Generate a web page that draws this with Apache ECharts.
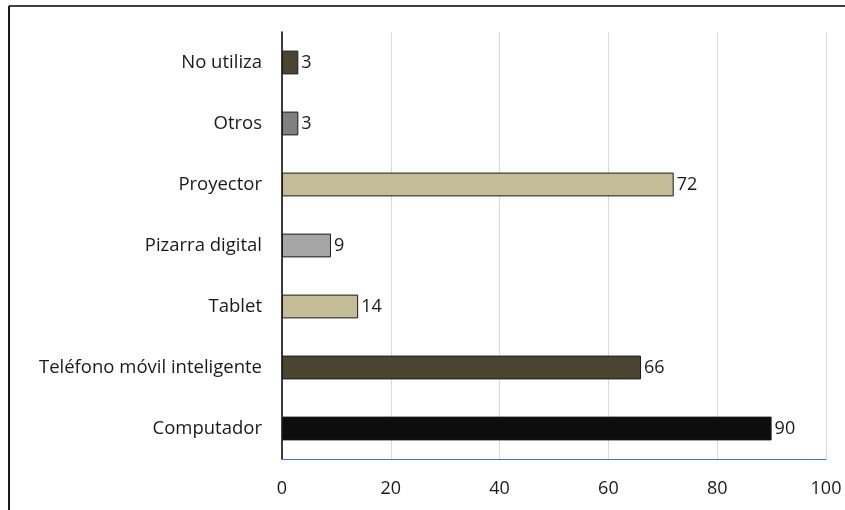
<!DOCTYPE html>
<html><head><meta charset="utf-8">
<script src="https://cdn.jsdelivr.net/npm/echarts@6/dist/echarts.min.js"></script>
<style>html,body{margin:0;padding:0;background:#fff}#c{width:845px;height:510px}</style>
</head><body><div id="c"></div>
<script>
const categories = ['Computador','Teléfono móvil inteligente','Tablet','Pizarra digital','Proyector','Otros','No utiliza'];
const values = [90, 66, 14, 9, 72, 3, 3];
const barColors = ['#0d0d0d','#4a4530','#c4bd97','#a6a6a6','#c4bd97','#808080','#4a4530'];
const xTicks = [0,20,40,60,80,100];

const chart = echarts.init(document.getElementById('c'));
const font = 'Open Sans';
chart.setOption({
  animation:false,
  backgroundColor:'#fff',
  grid:{left:282,right:19,top:32,bottom:51,containLabel:false},
  xAxis:{type:'value',min:xTicks[0],max:xTicks[xTicks.length-1],interval:20,
    axisLine:{show:true,lineStyle:{color:'#4472c4',width:1}},
    axisTick:{show:false},
    splitLine:{show:true,lineStyle:{color:'#d9d9d9',width:1}},
    axisLabel:{color:'#1a1a1a',fontFamily:font,fontSize:18,margin:21}},
  yAxis:{type:'category',data:categories,
    axisLine:{show:true,lineStyle:{color:'#000',width:1.5}},
    axisTick:{show:false},
    axisLabel:{color:'#1a1a1a',fontFamily:font,fontSize:18.5,margin:20}},
  series:[{type:'bar',barCategoryGap:'61%',
    data:values.map((v,i)=>({value:v,itemStyle:{color:barColors[i]}})),
    itemStyle:{borderColor:'#1a1a1a',borderWidth:1},
    label:{show:true,position:'right',distance:3,color:'#1a1a1a',fontFamily:font,fontSize:18}}],
  graphic:[
    {type:'line',shape:{x1:9,y1:6,x2:845,y2:6},style:{stroke:'#404040',lineWidth:2}},
    {type:'line',shape:{x1:9,y1:6,x2:9,y2:510},style:{stroke:'#1a1a1a',lineWidth:2}}
  ]
});
</script></body></html>
